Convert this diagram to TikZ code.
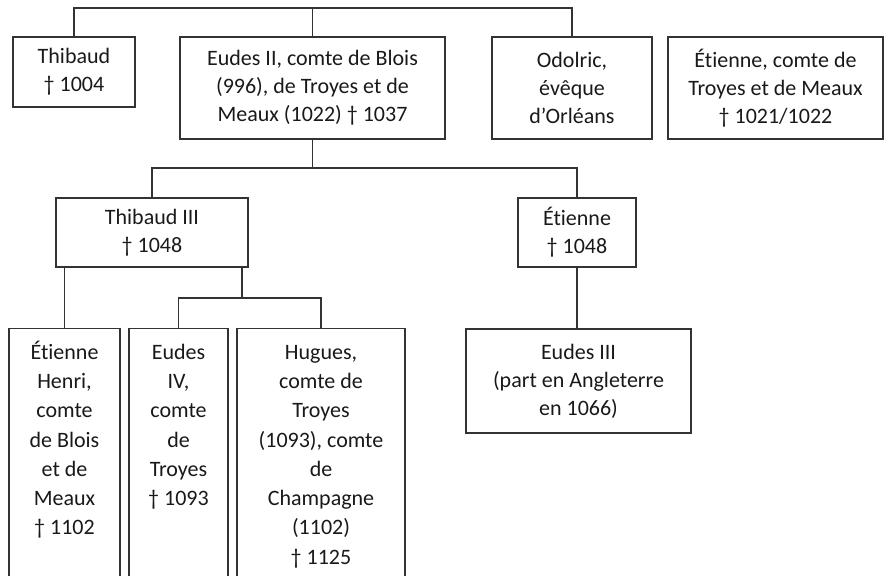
\documentclass[tikz,border=0pt]{standalone}
\usepackage{fontspec}
\setmainfont{Carlito}[Ligatures=NoCommon]
\tikzset{
    person/.style={draw=black!80, line width=1.3pt, align=center, inner sep=0pt, font=\fontsize{22}{28}\selectfont, text=black!90},
    kid/.style={person, anchor=north, inner ysep=10pt, text depth=300pt, font=\fontsize{22}{29.3}\selectfont},
    link/.style={line width=1.3pt, draw=black!80},
}
\begin{document}
\begin{tikzpicture}[x=1pt, y=-1pt]
    \useasboundingbox (0,0) rectangle (885,575);
    \clip (0,0) rectangle (885,575);
    % first generation
    \node[person, minimum width=122pt, minimum height=70pt] (thibaud) at (74,72) {Thibaud\\† 1004};
    \node[person, minimum width=265pt, minimum height=102pt] (eudes) at (312.5,88) {Eudes II, comte de Blois\\(996), de Troyes et de\\Meaux (1022) † 1037};
    \node[person, minimum width=160pt, minimum height=102pt] (odolric) at (572,88) {Odolric,\\évêque\\d’Orléans};
    \node[person, minimum width=215pt, minimum height=102pt] (etienneT) at (775.5,88) {Étienne, comte de\\Troyes et de Meaux\\† 1021/1022};
    \coordinate (bar1) at (312.5,8);
    \draw[link] (thibaud.north) |- (bar1) -| (odolric.north);
    \draw[link] (eudes.north) -- (bar1);
    % second generation
    \node[person, minimum width=192pt, minimum height=69pt] (thibaudIII) at (152,232.5) {Thibaud III\\† 1048};
    \node[person, minimum width=118pt, minimum height=69pt] (etienne) at (577,232.5) {Étienne\\† 1048};
    \coordinate (bar2) at (312.5,168);
    \draw[link] (eudes.south) -- (bar2);
    \draw[link] (thibaudIII.north) |- (bar2) -| (etienne.north);
    % third generation
    \node[kid, minimum width=111pt] (etienneH) at (64.5,328) {\strut Étienne\\Henri,\\comte\\de Blois\\et de\\Meaux\\† 1102};
    \node[kid, minimum width=99pt] (eudesIV) at (178.5,328) {\strut Eudes\\IV,\\comte\\de\\Troyes\\† 1093};
    \node[kid, minimum width=168pt] (hugues) at (321,328) {\strut Hugues,\\comte de\\Troyes\\(1093), comte\\de\\Champagne\\(1102)\\† 1125};
    \node[person, minimum width=225pt, minimum height=104pt] (eudesIII) at (578.5,381) {Eudes III\\(part en Angleterre\\en 1066)};
    \coordinate (bar3) at (242,298);
    \draw[link] (etienneH.north |- thibaudIII.south) -- (etienneH.north);
    \draw[link] (bar3 |- thibaudIII.south) -- (bar3);
    \draw[link] (eudesIV.north) |- (bar3) -| (hugues.north);
    \draw[link] (etienne.south) -- (etienne.south |- eudesIII.north);
\end{tikzpicture}
\end{document}
